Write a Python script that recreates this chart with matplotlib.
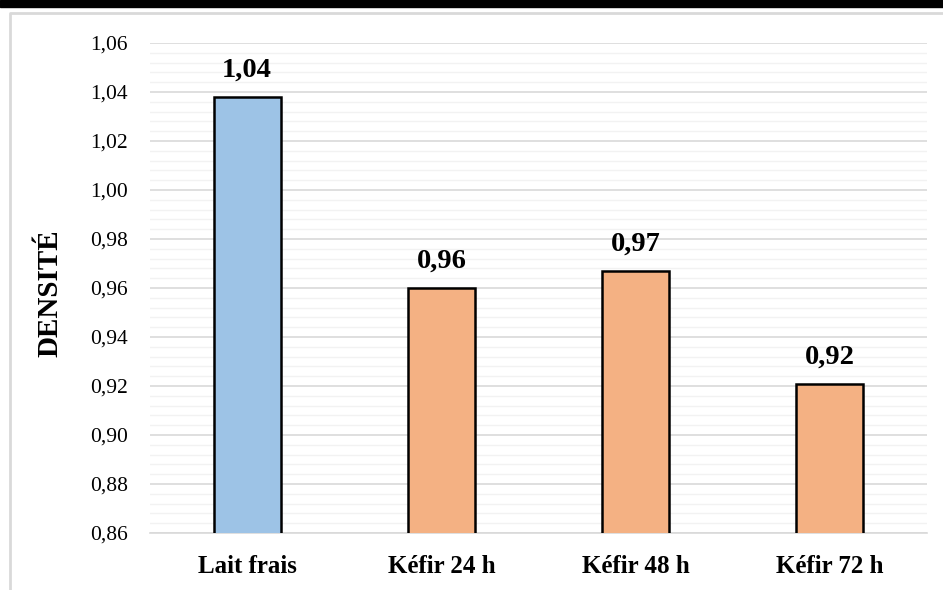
import matplotlib
matplotlib.use("Agg")
import matplotlib.pyplot as plt
from matplotlib.ticker import MultipleLocator, FuncFormatter
from matplotlib.lines import Line2D
from matplotlib.patches import Rectangle

# densité du lait et du kéfir selon la durée de fermentation
categories = ["Lait frais", "Kéfir 24 h", "Kéfir 48 h", "Kéfir 72 h"]
densite = [1.038, 0.960, 0.967, 0.921]
couleurs = ["#9DC3E6", "#F4B183", "#F4B183", "#F4B183"]

plt.rcParams["font.family"] = ["Liberation Serif", "DejaVu Serif"]

W, H = 943, 590
fig = plt.figure(figsize=(W / 100, H / 100), dpi=100)
ax = fig.add_axes([150 / W, 1 - 533 / H, 777 / W, 490 / H])

x = range(len(categories))
bars = ax.bar(x, densite, width=0.345, color=couleurs,
              edgecolor="black", linewidth=1.8, zorder=3)

for b, v in zip(bars, densite):
    ax.annotate(f"{v:.2f}".replace(".", ","),
                (b.get_x() + b.get_width() / 2, v),
                xytext=(0, 10), textcoords="offset points",
                ha="center", va="bottom", fontsize=20.5, fontweight="bold")

ax.set_xlim(-0.5, len(categories) - 0.5)
ax.set_ylim(0.86, 1.06)
ax.yaxis.set_major_locator(MultipleLocator(0.02))
ax.yaxis.set_minor_locator(MultipleLocator(0.004))
ax.yaxis.set_major_formatter(FuncFormatter(lambda v, p: f"{v:.2f}".replace(".", ",")))

ax.set_xticks(list(x))
ax.set_xticklabels(categories, fontsize=18, fontweight="bold")
ax.tick_params(axis="x", length=0, pad=16)
ax.tick_params(axis="y", which="both", length=0, pad=16, labelsize=15.5)

ax.grid(axis="y", which="major", color="#D9D9D9", linewidth=1.2, zorder=0)
ax.grid(axis="y", which="minor", color="#F2F2F2", linewidth=1.0, zorder=0)
for s in ["top", "right", "left"]:
    ax.spines[s].set_visible(False)
ax.spines["bottom"].set_color("#D9D9D9")
ax.spines["bottom"].set_linewidth(1.2)

ax.set_ylabel("DENSITÉ", fontsize=21, fontweight="bold")
ax.yaxis.set_label_coords(-0.112, 0.49)

# bandeau noir en haut et cadre gris du graphique
fig.patches.append(Rectangle((0, 1 - 7 / H), 1, 7 / H, transform=fig.transFigure,
                             color="black", zorder=10))
fig.lines.append(Line2D([10 / W, 10 / W, 1], [0, 1 - 13 / H, 1 - 13 / H],
                        transform=fig.transFigure, color="#D9D9D9", linewidth=2))

fig.savefig("out.png", dpi=100)
